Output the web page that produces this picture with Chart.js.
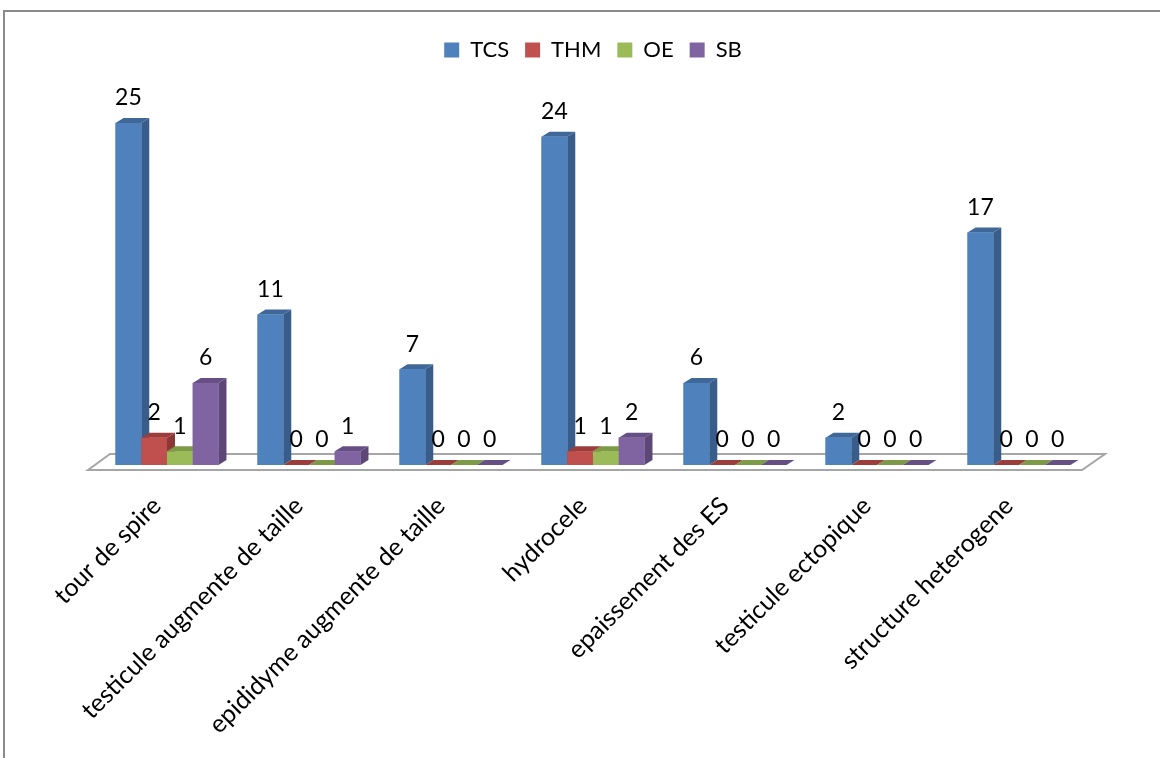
<!DOCTYPE html>
<html>
<head>
<meta charset="utf-8">
<script src="https://cdn.jsdelivr.net/npm/chart.js@4/dist/chart.umd.min.js"></script>
<style>
    html, body { margin: 0; padding: 0; background: #fff; }
    #wrap { width: 1160px; height: 758px; position: relative; }
</style>
</head>
<body>
<div id="wrap"><canvas id="chart" width="1160" height="758"></canvas></div>
<script>
// 数据
const categories = ['tour de spire', 'testicule augmente de taille', 'epididyme augmente de taille',
    'hydrocele', 'epaissement des ES', 'testicule ectopique', 'structure heterogene'];
const seriesNames = ['TCS', 'THM', 'OE', 'SB'];
const tcsValues = [25, 11, 7, 24, 6, 2, 17];
const thmValues = [2, 0, 0, 1, 0, 0, 0];
const oeValues = [1, 0, 0, 1, 0, 0, 0];
const sbValues = [6, 1, 0, 2, 0, 0, 0];

// 颜色: 正面 / 侧面 / 顶面
const faceColors = ['#4F81BD', '#C0504D', '#9BBB59', '#8064A2'];
const sideColors = ['#385D8A', '#8C3836', '#71893F', '#5C4776'];
const topColors = ['#3F6899', '#9B3D3A', '#7D9A47', '#664F85'];

const DX = 8, DY = 5;
const FONT = 'Lato, "Open Sans", sans-serif';

// 外框
const framePlugin = {
    id: 'frame',
    beforeDraw(chart) {
        const ctx = chart.ctx;
        ctx.save();
        ctx.fillStyle = '#fff';
        ctx.fillRect(0, 0, chart.width, chart.height);
        ctx.strokeStyle = '#8a8a8a';
        ctx.lineWidth = 2;
        ctx.beginPath();
        ctx.moveTo(4, chart.height);
        ctx.lineTo(4, 11);
        ctx.lineTo(chart.width, 11);
        ctx.stroke();
        ctx.restore();
    }
};

// 底板
const floorPlugin = {
    id: 'floor',
    beforeDatasetsDraw(chart) {
        const ctx = chart.ctx;
        const a = chart.chartArea;
        const y0 = chart.scales.y.getPixelForValue(0);
        ctx.save();
        ctx.strokeStyle = '#a6a6a6';
        ctx.lineWidth = 2;
        ctx.fillStyle = '#fff';
        ctx.beginPath();
        ctx.moveTo(a.left - 8, y0 + 5);
        ctx.lineTo(a.right - 8, y0 + 5);
        ctx.lineTo(a.right + 15, y0 - 11);
        ctx.lineTo(a.left + 14, y0 - 11);
        ctx.closePath();
        ctx.fill();
        ctx.stroke();
        ctx.restore();
    }
};

// 3D 柱子
const bar3dPlugin = {
    id: 'bar3d',
    afterDatasetsDraw(chart) {
        const ctx = chart.ctx;
        ctx.save();
        categories.forEach((c, i) => {
            chart.data.datasets.forEach((ds, d) => {
                const el = chart.getDatasetMeta(d).data[i];
                const p = el.getProps(['x', 'y', 'base', 'width'], true);
                const l = p.x - p.width / 2, r = p.x + p.width / 2;
                const top = Math.min(p.y, p.base), bot = p.base;
                if (bot - top > 0.5) {
                    ctx.fillStyle = sideColors[d];
                    ctx.beginPath();
                    ctx.moveTo(r, top);
                    ctx.lineTo(r + DX, top - DY);
                    ctx.lineTo(r + DX, bot - DY);
                    ctx.lineTo(r, bot);
                    ctx.closePath();
                    ctx.fill();
                }
                ctx.fillStyle = topColors[d];
                ctx.beginPath();
                ctx.moveTo(l, top);
                ctx.lineTo(l + DX, top - DY);
                ctx.lineTo(r + DX, top - DY);
                ctx.lineTo(r, top);
                ctx.closePath();
                ctx.fill();
                if (bot - top > 0.5) {
                    ctx.fillStyle = faceColors[d];
                    ctx.fillRect(l, top, r - l, bot - top);
                }
            });
        });
        ctx.restore();
    }
};

// 数值标签
const valueLabelPlugin = {
    id: 'valueLabels',
    afterDatasetsDraw(chart) {
        const ctx = chart.ctx;
        ctx.save();
        ctx.font = '23px ' + FONT;
        ctx.fillStyle = '#000';
        ctx.textAlign = 'center';
        ctx.textBaseline = 'middle';
        chart.data.datasets.forEach((ds, d) => {
            chart.getDatasetMeta(d).data.forEach((el, i) => {
                ctx.fillText(String(ds.data[i]), el.x, el.y - 25);
            });
        });
        ctx.restore();
    }
};

const allValues = [tcsValues, thmValues, oeValues, sbValues];

new Chart(document.getElementById('chart').getContext('2d'), {
    type: 'bar',
    data: {
        labels: categories,
        datasets: seriesNames.map((name, d) => ({
            label: name,
            data: allValues[d],
            backgroundColor: faceColors[d],
            borderWidth: 0,
            categoryPercentage: 0.725,
            barPercentage: 1.0
        }))
    },
    options: {
        responsive: false,
        animation: false,
        layout: { padding: { top: 23, left: 96, right: 70, bottom: 12 } },
        plugins: {
            legend: {
                display: true,
                position: 'top',
                labels: {
                    boxWidth: 15,
                    boxHeight: 15,
                    padding: 16,
                    color: '#000',
                    font: { family: FONT, size: 22 }
                }
            },
            tooltip: { enabled: false }
        },
        scales: {
            x: {
                grid: { display: false },
                border: { display: false },
                ticks: {
                    color: '#000',
                    font: { family: FONT, size: 25 },
                    maxRotation: 45,
                    minRotation: 45,
                    autoSkip: false,
                    padding: 18,
                    labelOffset: -10
                },
                afterFit(scale) { scale.height = 758 - 12 - 465; }
            },
            y: {
                display: false,
                min: 0,
                max: 28.8
            }
        }
    },
    plugins: [framePlugin, floorPlugin, bar3dPlugin, valueLabelPlugin]
});
</script>
</body>
</html>
